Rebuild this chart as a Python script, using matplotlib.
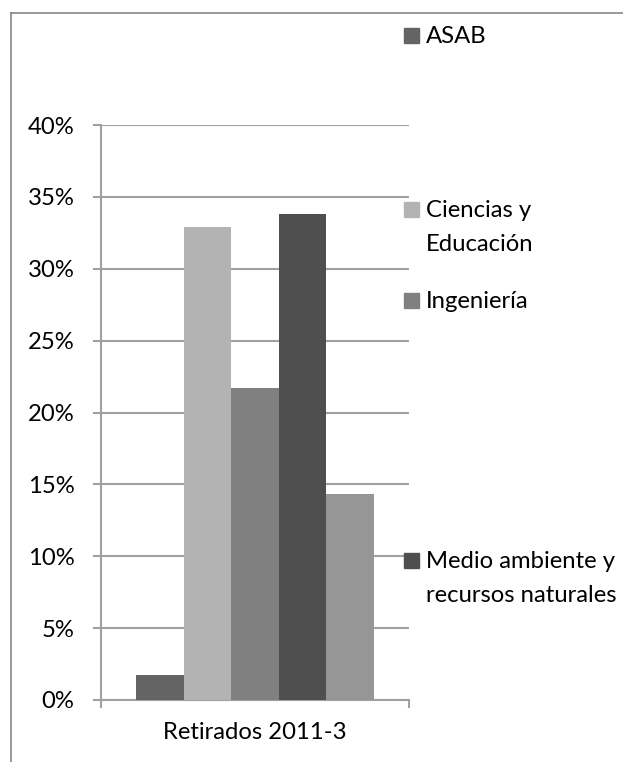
import numpy as np
import matplotlib.pyplot as plt
from matplotlib.lines import Line2D
from matplotlib.patches import Rectangle
from matplotlib.ticker import FixedLocator, PercentFormatter

# Data
category = 'Retirados 2011-3'
series = ['ASAB', 'Ciencias y\nEducación', 'Ingeniería',
          'Medio ambiente y\nrecursos naturales', 'Tecnológica']
values = [0.0175, 0.329, 0.217, 0.338, 0.143]
colors = ['#646464', '#b3b3b3', '#808080', '#4f4f4f', '#969696']

plt.rcParams['font.family'] = ['Lato', 'DejaVu Sans']
fs = 17.2

fig = plt.figure(figsize=(6.23, 7.62), dpi=100)
ax = fig.add_axes([101 / 623, 62 / 762, 308 / 623, 575 / 762])

# Bars
group_width = 0.77
bar_width = group_width / len(series)
offsets = -group_width / 2 + bar_width * (np.arange(len(series)) + 0.5)
for off, val, col in zip(offsets, values, colors):
    ax.bar(off, val, bar_width, color=col, zorder=3)

grid_col = '#a0a0a0'
ax.set_xlim(-0.5, 0.5)
ax.set_ylim(0, 0.40)
ax.yaxis.set_major_locator(FixedLocator(np.arange(0, 0.401, 0.05)))
ax.yaxis.set_major_formatter(PercentFormatter(1.0, decimals=0))
ax.grid(axis='y', color=grid_col, linewidth=1.5, zorder=0)

# category tick marks at both ends, label in the middle
ax.set_xticks([-0.5, 0.5])
ax.set_xticklabels(['', ''])
ax.set_xticks([0], minor=True)
ax.set_xticklabels([category], minor=True)
ax.tick_params(axis='x', which='major', length=6, width=1.5, color=grid_col)
ax.tick_params(axis='x', which='minor', length=0, pad=16, labelsize=fs)
ax.tick_params(axis='y', length=6, width=1.5, color=grid_col, labelsize=fs, pad=13)

for s in ['top', 'right']:
    ax.spines[s].set_visible(False)
for s in ['left', 'bottom']:
    ax.spines[s].set_color(grid_col)
    ax.spines[s].set_linewidth(1.5)

# Legend drawn at the Excel positions (last entry falls below the picture)
legend_base = [43, 217, 308, 568, 830]
line_step = 34
for name, col, yb in zip(series, colors, legend_base):
    if yb > 762:
        continue
    fig.add_artist(Rectangle((404 / 623, 1 - yb / 762), 15 / 623, 15 / 762,
                             transform=fig.transFigure, color=col))
    for i, line in enumerate(name.split('\n')):
        fig.text(426 / 623, 1 - (yb + i * line_step) / 762, line,
                 fontsize=fs, va='baseline', ha='left')

# Chart border (cut at right and bottom)
border = '#868686'
fig.add_artist(Line2D([11 / 623, 1.0], [1 - 13 / 762, 1 - 13 / 762],
                      transform=fig.transFigure, color=border, linewidth=1.2))
fig.add_artist(Line2D([11 / 623, 11 / 623], [0, 1 - 13 / 762],
                      transform=fig.transFigure, color=border, linewidth=1.2))

plt.savefig('out.png', dpi=100)
